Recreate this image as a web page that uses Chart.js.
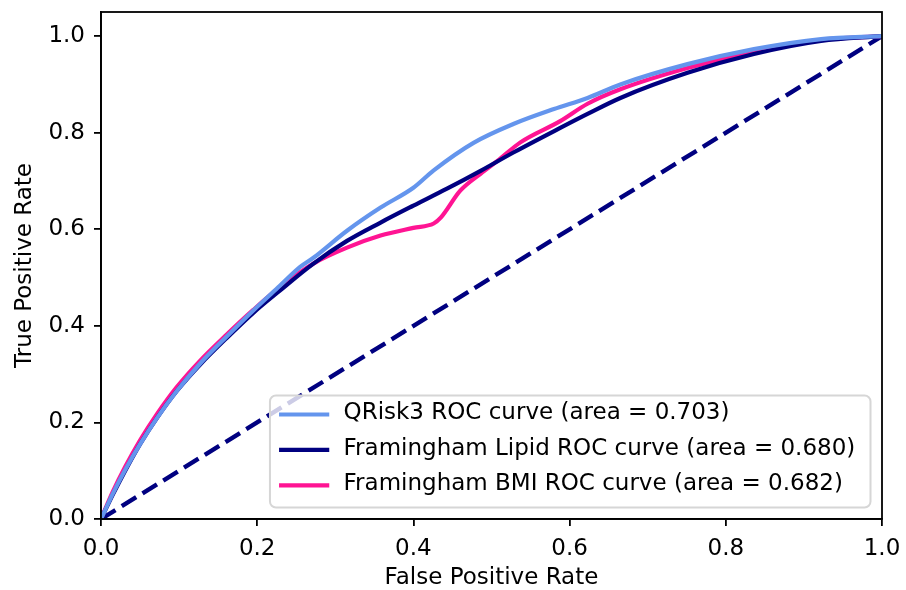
<!DOCTYPE html>
<html>
<head>
<meta charset="utf-8">
<script src="https://cdn.jsdelivr.net/npm/chart.js@4.4.1/dist/chart.umd.min.js"></script>
<style>
  html, body { margin: 0; padding: 0; background: #ffffff; }
  #wrap { width: 906px; height: 590px; }
</style>
</head>
<body>
<div id="wrap"><canvas id="roc-chart" width="906" height="590"></canvas></div>
<script>
const qriskFpr = [0, 0.015, 0.031, 0.05, 0.072, 0.097, 0.127, 0.161, 0.195, 0.229, 0.255, 0.272, 0.315, 0.358, 0.4, 0.426, 0.477, 0.528, 0.58, 0.623, 0.665, 0.751, 0.836, 0.922, 1];
const qriskTpr = [0, 0.052, 0.102, 0.155, 0.21, 0.265, 0.322, 0.378, 0.432, 0.483, 0.522, 0.541, 0.597, 0.645, 0.686, 0.722, 0.779, 0.818, 0.849, 0.872, 0.9, 0.942, 0.973, 0.994, 1];

const lipidFpr = [0, 0.015, 0.031, 0.05, 0.072, 0.097, 0.127, 0.161, 0.195, 0.229, 0.272, 0.315, 0.358, 0.4, 0.443, 0.486, 0.528, 0.588, 0.623, 0.665, 0.751, 0.836, 0.922, 1];
const lipidTpr = [0, 0.05, 0.1, 0.155, 0.21, 0.265, 0.32, 0.375, 0.427, 0.473, 0.529, 0.576, 0.614, 0.649, 0.684, 0.721, 0.759, 0.81, 0.839, 0.872, 0.924, 0.963, 0.99, 1];

const bmiFpr = [0, 0.015, 0.031, 0.05, 0.072, 0.097, 0.127, 0.161, 0.195, 0.229, 0.272, 0.315, 0.358, 0.4, 0.426, 0.435, 0.46, 0.486, 0.508, 0.537, 0.588, 0.623, 0.665, 0.751, 0.836, 0.922, 1];
const bmiTpr = [0, 0.056, 0.108, 0.163, 0.218, 0.273, 0.328, 0.382, 0.433, 0.48, 0.529, 0.562, 0.587, 0.603, 0.612, 0.624, 0.68, 0.715, 0.742, 0.78, 0.824, 0.86, 0.89, 0.934, 0.967, 0.992, 1];

const chanceFpr = [0, 1];
const chanceTpr = [0, 1];

const tickValues = [0, 0.2, 0.4, 0.6, 0.8, 1.0];

const seriesLabels = [
  "QRisk3 ROC curve (area = 0.703)",
  "Framingham Lipid ROC curve (area = 0.680)",
  "Framingham BMI ROC curve (area = 0.682)",
];
const seriesColors = ["#6495ed", "#000080", "#ff1493"];

const FONT = "'DejaVu Sans', Verdana, sans-serif";
const FONT_SIZE = 23;

function toPoints(xs, ys) {
  return xs.map((x, i) => ({ x, y: ys[i] }));
}

// spines drawn on all four sides, like a matplotlib axes frame
const framePlugin = {
  id: "axesFrame",
  afterDatasetsDraw(chart) {
    const { ctx, chartArea } = chart;
    ctx.save();
    ctx.strokeStyle = "#000000";
    ctx.lineWidth = 1.8;
    ctx.strokeRect(chartArea.left, chartArea.top, chartArea.right - chartArea.left, chartArea.bottom - chartArea.top);
    ctx.restore();
  },
};

// legend box in the lower right corner, inside the plot
const legendPlugin = {
  id: "lowerRightLegend",
  afterDraw(chart) {
    const { ctx, chartArea } = chart;
    const em = FONT_SIZE;
    const pad = 0.4 * em;
    const handle = 2 * em;
    const textPad = 0.8 * em;
    const rowGap = 35.4;
    ctx.save();
    ctx.font = `${FONT_SIZE}px ${FONT}`;
    const textWidth = Math.max(...seriesLabels.map((label) => ctx.measureText(label).width));
    const boxW = pad + handle + textPad + textWidth + pad + 6;
    const boxH = 112;
    const right = chartArea.right - 0.5 * em;
    const bottom = chartArea.bottom - 0.5 * em;
    const left = right - boxW;
    const top = bottom - boxH;

    ctx.beginPath();
    ctx.roundRect(left, top, boxW, boxH, 6);
    ctx.fillStyle = "rgba(255, 255, 255, 0.8)";
    ctx.fill();
    ctx.strokeStyle = "#d6d6d6";
    ctx.lineWidth = 2;
    ctx.stroke();

    seriesLabels.forEach((label, i) => {
      const y = top + 19 + i * rowGap;
      ctx.beginPath();
      ctx.moveTo(left + pad + 2, y);
      ctx.lineTo(left + pad + 2 + handle, y);
      ctx.strokeStyle = seriesColors[i];
      ctx.lineWidth = 4.2;
      ctx.lineCap = "square";
      ctx.stroke();
      ctx.fillStyle = "#000000";
      ctx.textAlign = "left";
      ctx.textBaseline = "middle";
      ctx.fillText(label, left + pad + handle + textPad, y - 1);
    });
    ctx.restore();
  },
};

function axisOptions(max, titleText, titlePadding, tickPadding, fitSize, horizontal) {
  return {
    type: "linear",
    min: 0,
    max,
    afterBuildTicks(scale) {
      scale.ticks = tickValues.map((value) => ({ value }));
    },
    afterFit(scale) {
      // keep the plot box where the layout padding puts it
      scale.paddingTop = 0;
      scale.paddingBottom = 0;
      scale.paddingLeft = 0;
      scale.paddingRight = 0;
      if (horizontal) scale.height = fitSize;
      else scale.width = fitSize;
    },
    ticks: {
      color: "#000000",
      font: { family: FONT, size: FONT_SIZE },
      padding: tickPadding,
      maxRotation: 0,
      autoSkip: false,
      callback(value) {
        return Number(value).toFixed(1);
      },
    },
    grid: {
      drawOnChartArea: false,
      drawTicks: true,
      tickLength: 7,
      color: "#000000",
      lineWidth: 1.8,
    },
    border: { display: true, color: "#000000", width: 1.8 },
    title: {
      display: true,
      text: titleText,
      color: "#000000",
      font: { family: FONT, size: FONT_SIZE, lineHeight: 1 },
      padding: titlePadding,
    },
  };
}

const canvas = document.getElementById("roc-chart");

new Chart(canvas, {
  type: "line",
  data: {
    datasets: [
      {
        label: seriesLabels[0],
        data: toPoints(qriskFpr, qriskTpr),
        borderColor: seriesColors[0],
        borderWidth: 4.2,
        cubicInterpolationMode: "monotone",
        pointRadius: 0,
        fill: false,
      },
      {
        label: seriesLabels[1],
        data: toPoints(lipidFpr, lipidTpr),
        borderColor: seriesColors[1],
        borderWidth: 4.2,
        cubicInterpolationMode: "monotone",
        pointRadius: 0,
        fill: false,
      },
      {
        label: seriesLabels[2],
        data: toPoints(bmiFpr, bmiTpr),
        borderColor: seriesColors[2],
        borderWidth: 4.2,
        cubicInterpolationMode: "monotone",
        pointRadius: 0,
        fill: false,
      },
      {
        label: "chance",
        data: toPoints(chanceFpr, chanceTpr),
        borderColor: "#000080",
        borderWidth: 4.4,
        borderDash: [17, 7.4],
        pointRadius: 0,
        fill: false,
      },
    ],
  },
  options: {
    responsive: false,
    devicePixelRatio: 1,
    animation: false,
    layout: { padding: { top: 12, right: 24, left: 0, bottom: 0 } },
    plugins: {
      legend: { display: false },
      tooltip: { enabled: false },
    },
    scales: {
      x: axisOptions(1, "False Positive Rate", { top: 0, bottom: 0 }, 9, 71, true),
      y: axisOptions(1.05, "True Positive Rate", { top: 13.5, bottom: 0 }, 9, 101, false),
    },
  },
  plugins: [framePlugin, legendPlugin],
});
</script>
</body>
</html>
